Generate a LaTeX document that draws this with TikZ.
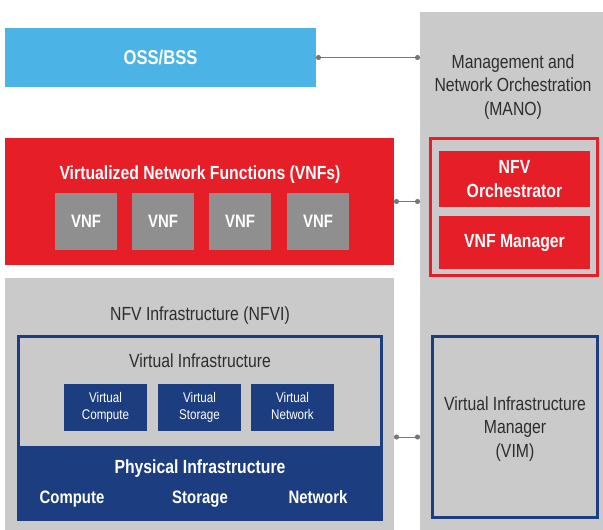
\documentclass[tikz,border=0pt]{standalone}
\usepackage{fontspec}
\setmainfont{Liberation Sans}[FakeStretch=0.83]
\usepackage{tikz}
\usetikzlibrary{arrows.meta,positioning}
\definecolor{ossblue}{RGB}{75,179,230}
\definecolor{vnfred}{RGB}{229,30,40}
\definecolor{panelgray}{RGB}{202,202,202}
\definecolor{vnfgray}{RGB}{143,143,143}
\definecolor{infranavy}{RGB}{28,62,128}
\definecolor{linkgray}{RGB}{118,118,118}
\definecolor{textgray}{RGB}{45,45,45}

\tikzset{
  blk/.style={anchor=north west,inner sep=0pt,outer sep=0pt,align=center},
  title/.style={anchor=base,inner sep=0pt,font=\fontsize{19}{24}\selectfont},
  heading/.style={title,text=white,font=\bfseries\fontsize{19}{24}\selectfont},
  link/.style={draw=linkgray,line width=1pt,{Circle[length=5pt]}-{Circle[length=5pt]}}
}

\begin{document}
\begin{tikzpicture}[x=1pt,y=-1pt]
\useasboundingbox (0,0) rectangle (603,530);
%MANO column
\node[blk,fill=panelgray,minimum width=183pt,minimum height=518pt] (mano) at (420,12) {};
\node[align=center,inner sep=0pt,text=textgray,font=\fontsize{19}{23.5}\selectfont] (manotxt) at (513,87) {Management and\\Network Orchestration\\(MANO)};
%OSS/BSS
\node[blk,fill=ossblue,minimum width=311pt,minimum height=59pt,text=white,
  font=\bfseries\fontsize{20}{24}\selectfont] (oss) at (5,28) {OSS/BSS};
\draw[link] (oss.east) -- (oss.east -| mano.west);
%VNFs
\node[blk,fill=vnfred,minimum width=389pt,minimum height=127pt] (vnfs) at (5,138) {};
\node[heading] (vnfstxt) at (200,179) {Virtualized Network Functions (VNFs)};
\foreach \x [count=\i] in {55,132,209,287}
  \node[blk,fill=vnfgray,minimum width=62pt,minimum height=57pt,text=white,
    font=\bfseries\fontsize{18}{20}\selectfont] (vnf\i) at (\x,193) {VNF};
\draw[link] (vnfs.east) -- (vnfs.east -| mano.west);
%orchestrator + manager
\node[blk,draw=vnfred,line width=3pt,minimum width=167pt,minimum height=137pt] (redframe) at (430.5,138.5) {};
\node[blk,fill=vnfred,minimum width=151pt,minimum height=56pt,text=white,
  font=\bfseries\fontsize{19}{24}\selectfont] (orch) at (439,151) {NFV\\Orchestrator};
\node[blk,fill=vnfred,minimum width=151pt,minimum height=53pt,text=white,
  font=\bfseries\fontsize{19}{24}\selectfont] (vnfm) at (439,216) {VNF Manager};
%NFVI
\node[blk,fill=panelgray,minimum width=389pt,minimum height=252pt] (nfvi) at (5,278) {};
\node[title,text=textgray] (nfvitxt) at (200,320) {NFV Infrastructure (NFVI)};
\node[blk,fill=infranavy,minimum width=366pt,minimum height=75pt] (phys) at (17,446) {};
\node[blk,draw=infranavy,line width=3pt,minimum width=363pt,minimum height=183pt] (blueframe) at (18.5,336.5) {};
\node[title,text=textgray] (vitxt) at (200,367) {Virtual Infrastructure};
\foreach \x/\t [count=\i] in {64/Compute,158/Storage,251/Network}
  \node[blk,fill=infranavy,minimum width=83pt,minimum height=47pt,text=white,
    font=\fontsize{14}{17}\selectfont] (virt\i) at (\x,384) {\strut Virtual\\\t\strut};
\node[heading] (phystxt) at (200,473) {Physical Infrastructure};
\node[heading,font=\bfseries\fontsize{18}{22}\selectfont] (comp) at (72,503) {Compute};
\node[heading,font=\bfseries\fontsize{18}{22}\selectfont] (stor) at (200,503) {Storage};
\node[heading,font=\bfseries\fontsize{18}{22}\selectfont] (netw) at (318,503) {Network};
%VIM
\node[blk,draw=infranavy,line width=3pt,fill=panelgray,minimum width=165pt,minimum height=181pt] (vim) at (432.5,336.5) {};
\node[align=center,inner sep=0pt,text=textgray,font=\fontsize{19}{23.5}\selectfont] (vimtxt) at (515,429) {Virtual Infrastructure\\Manager\\(VIM)};
\draw[link] (nfvi.east |- 0,437) -- (mano.west |- 0,437);
\end{tikzpicture}
\end{document}
